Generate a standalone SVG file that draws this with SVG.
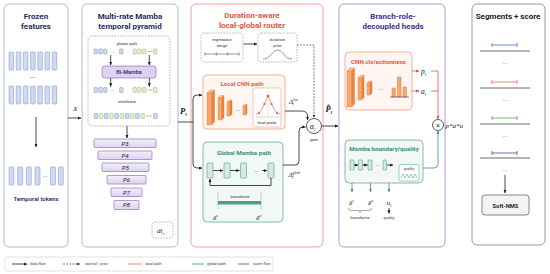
<svg xmlns="http://www.w3.org/2000/svg" width="550" height="274" viewBox="0 0 550 274">
<defs>
<style>
text{font-family:Roboto,"Liberation Sans",Arial,sans-serif}
.ttl{font-size:8px;font-weight:700;text-anchor:middle}
.sub{font-size:6.2px;font-weight:700;text-anchor:middle}
.tiny{font-size:4.2px;fill:#333;text-anchor:middle}
.math{font-family:"Liberation Serif","DejaVu Serif",serif;font-style:italic;fill:#1a1a1a}
.mc{text-anchor:middle}
.panel{fill:#fff;stroke-width:1}
.tok{fill:#cfd9f1;stroke:#7d92c7;stroke-width:0.5}
.gtok{fill:#e5eed3;stroke:#96b675;stroke-width:0.5}
.dbox{fill:#fff;stroke:#8a8a8a;stroke-width:0.6;stroke-dasharray:1.6 1.2}
.pyr{fill:url(#gp);stroke:#8c72c4;stroke-width:0.7}
.mb{fill:#d3ebe4;stroke:#4f9c8b;stroke-width:0.6}
.fr{fill:#f7a869;stroke:#dd6e37;stroke-width:0.35}
.sd{fill:#e4843f;stroke:#dd6e37;stroke-width:0.35}
.tp{fill:#fbc595;stroke:#dd6e37;stroke-width:0.35}
.k{fill:none;stroke:#1a1a1a;stroke-width:0.8}
.kd{fill:none;stroke:#333;stroke-width:0.7;stroke-dasharray:1.8 1.3}
.r{fill:none;stroke:#e8553f;stroke-width:0.8}
.g{fill:none;stroke:#3e8f7e;stroke-width:0.8}
.p{fill:none;stroke:#5b45b0;stroke-width:0.8}
.pinkbox{fill:#fff5f1;stroke:#f2a08c;stroke-width:0.8}
.greenbox{fill:#f1f8f5;stroke:#6aaa9a;stroke-width:0.8}
.seg{stroke-width:0.9;fill:none}
.base{stroke:#444;stroke-width:0.8}
.leg{font-size:3.8px;fill:#444}
</style>
<linearGradient id="gp" x1="0" y1="0" x2="0" y2="1"><stop offset="0" stop-color="#f3effb"/><stop offset="1" stop-color="#ddd3f1"/></linearGradient>
<marker id="a" viewBox="0 0 6 6" refX="5.5" refY="3" markerWidth="4.5" markerHeight="4.5" orient="auto"><path d="M0,0.5 L6,3 L0,5.5z" fill="#1a1a1a"/></marker>
<marker id="ar" viewBox="0 0 6 6" refX="5.5" refY="3" markerWidth="4.5" markerHeight="4.5" orient="auto"><path d="M0,0.5 L6,3 L0,5.5z" fill="#e8553f"/></marker>
<marker id="ag" viewBox="0 0 6 6" refX="5.5" refY="3" markerWidth="4.5" markerHeight="4.5" orient="auto"><path d="M0,0.5 L6,3 L0,5.5z" fill="#3e8f7e"/></marker>
</defs>

<!-- Panel 1 -->
<g id="frozen-features">
<rect class="panel" x="4" y="4" width="64" height="243" rx="5" stroke="#abbdd1"/>
<text class="ttl" x="36" y="19" fill="#1f2d5a">Frozen</text>
<text class="ttl" x="36" y="29" fill="#1f2d5a">features</text>
<g>
<rect class="tok" x="9" y="52" width="4.6" height="18" rx="0.8"/><rect class="tok" x="16.2" y="52" width="4.6" height="18" rx="0.8"/><rect class="tok" x="23.4" y="52" width="4.6" height="18" rx="0.8"/><rect class="tok" x="30.6" y="52" width="4.6" height="18" rx="0.8"/><rect class="tok" x="37.8" y="52" width="4.6" height="18" rx="0.8"/><rect class="tok" x="45" y="52" width="4.6" height="18" rx="0.8"/><rect class="tok" x="52.2" y="52" width="4.6" height="18" rx="0.8"/>
<rect class="tok" x="9" y="86" width="4.6" height="18" rx="0.8"/><rect class="tok" x="16.2" y="86" width="4.6" height="18" rx="0.8"/><rect class="tok" x="23.4" y="86" width="4.6" height="18" rx="0.8"/><rect class="tok" x="30.6" y="86" width="4.6" height="18" rx="0.8"/><rect class="tok" x="37.8" y="86" width="4.6" height="18" rx="0.8"/><rect class="tok" x="45" y="86" width="4.6" height="18" rx="0.8"/><rect class="tok" x="52.2" y="86" width="4.6" height="18" rx="0.8"/>
</g>
<text x="33" y="80" font-size="7" fill="#333" text-anchor="middle">···</text>
<g>
<rect class="tok" x="9" y="167" width="5" height="18" rx="0.8"/><rect class="tok" x="17.7" y="167" width="5" height="18" rx="0.8"/><rect class="tok" x="26.3" y="167" width="5" height="18" rx="0.8"/><rect class="tok" x="35" y="167" width="5" height="18" rx="0.8"/><rect class="tok" x="50.5" y="167" width="5" height="18" rx="0.8"/><rect class="tok" x="58.3" y="167" width="5" height="18" rx="0.8"/>
</g>
<text x="45.2" y="178" font-size="6" fill="#333" text-anchor="middle">···</text>
<text x="36" y="201" font-size="6" font-weight="600" fill="#1f2d5a" text-anchor="middle">Temporal tokens</text>
</g>

<!-- Panel 2 -->
<g id="temporal-pyramid">
<rect class="panel" x="82" y="4" width="96" height="243" rx="5" stroke="#a7bfd8"/>
<text class="ttl" x="130" y="19" fill="#1f2d5a">Multi-rate Mamba</text>
<text class="ttl" x="130" y="29" fill="#1f2d5a">temporal pyramid</text>
<rect class="dbox" x="88" y="36" width="82" height="90" rx="4"/>
<text class="tiny" x="127" y="45">phase split</text>
<g id="row1">
<rect class="tok" x="94" y="49" width="3.4" height="5" rx="0.5"/><rect class="tok" x="98.8" y="49" width="3.4" height="5" rx="0.5"/><rect class="tok" x="103.6" y="49" width="3.4" height="5" rx="0.5"/><rect class="tok" x="119.6" y="49" width="3.4" height="5" rx="0.5"/>
<rect class="gtok" x="133" y="49" width="3.4" height="5" rx="0.5"/><rect class="gtok" x="137.8" y="49" width="3.4" height="5" rx="0.5"/><rect class="gtok" x="142.6" y="49" width="3.4" height="5" rx="0.5"/><rect class="gtok" x="153.6" y="49" width="3.4" height="5" rx="0.5"/>
<text x="113" y="53.5" font-size="5" fill="#555" text-anchor="middle">···</text>
<path d="M147.5,51.5 H152.5" stroke="#777" stroke-width="0.5"/>
</g>
<rect x="102" y="66" width="54" height="12" rx="3" fill="#ddd3f1" stroke="#8c72c4" stroke-width="0.7"/>
<text x="129" y="74" font-size="5.5" font-weight="600" fill="#3a2f70" text-anchor="middle">Bi-Mamba</text>
<g id="row2">
<rect class="tok" x="94" y="87.5" width="3.4" height="5" rx="0.5"/><rect class="tok" x="98.8" y="87.5" width="3.4" height="5" rx="0.5"/><rect class="tok" x="103.6" y="87.5" width="3.4" height="5" rx="0.5"/><rect class="tok" x="119.6" y="87.5" width="3.4" height="5" rx="0.5"/>
<rect class="gtok" x="133" y="87.5" width="3.4" height="5" rx="0.5"/><rect class="gtok" x="137.8" y="87.5" width="3.4" height="5" rx="0.5"/><rect class="gtok" x="142.6" y="87.5" width="3.4" height="5" rx="0.5"/><rect class="gtok" x="153.6" y="87.5" width="3.4" height="5" rx="0.5"/>
<text x="113" y="92" font-size="5" fill="#555" text-anchor="middle">···</text>
<path d="M147.5,90 H152.5" stroke="#777" stroke-width="0.5"/>
</g>
<text class="tiny" x="127" y="103">interleave</text>
<g id="row3">
<rect class="tok" x="94" y="113.5" width="3.6" height="5" rx="0.5"/><rect class="gtok" x="99.2" y="113.5" width="3.6" height="5" rx="0.5"/><rect class="tok" x="104.4" y="113.5" width="3.6" height="5" rx="0.5"/><rect class="gtok" x="109.6" y="113.5" width="3.6" height="5" rx="0.5"/><rect class="tok" x="114.8" y="113.5" width="3.6" height="5" rx="0.5"/><rect class="gtok" x="120" y="113.5" width="3.6" height="5" rx="0.5"/><rect class="tok" x="125.2" y="113.5" width="3.6" height="5" rx="0.5"/><rect class="gtok" x="130.4" y="113.5" width="3.6" height="5" rx="0.5"/><rect class="tok" x="135.6" y="113.5" width="3.6" height="5" rx="0.5"/><rect class="gtok" x="140.8" y="113.5" width="3.6" height="5" rx="0.5"/><rect class="tok" x="153.6" y="113.5" width="3.6" height="5" rx="0.5"/>
<path d="M146,116 H152" stroke="#777" stroke-width="0.5"/>
</g>
<g id="levels">
<rect class="pyr" x="94" y="139" width="62" height="8.5" rx="1"/>
<rect class="pyr" x="98" y="151" width="54" height="8.5" rx="1"/>
<rect class="pyr" x="102" y="163" width="47" height="8.5" rx="1"/>
<rect class="pyr" x="107" y="175.5" width="39" height="8.5" rx="1"/>
<rect class="pyr" x="111" y="188" width="31" height="8.5" rx="1"/>
<rect class="pyr" x="114" y="200.5" width="25" height="9" rx="1"/>
<g class="math" font-size="6" fill="#3a2f70" text-anchor="middle">
<text x="125" y="145.5">P3</text><text x="125" y="157.5">P4</text><text x="125.5" y="169.5">P5</text><text x="126.5" y="182">P6</text><text x="126.5" y="194.5">P7</text><text x="126.5" y="207.3">P8</text>
</g>
</g>
<rect class="dbox" x="152" y="222" width="21" height="16" rx="3"/>
<text class="math" x="157" y="233" font-size="7">dt<tspan font-size="4.5" dy="1.5">c</tspan></text>
</g>

<!-- Panel 3 -->
<g id="router">
<rect class="panel" x="191" y="4" width="132" height="243" rx="5" stroke="#f2a398"/>
<text class="ttl" x="252" y="18" fill="#e8553f">Duration-aware</text>
<text class="ttl" x="252" y="28" fill="#e8553f">local-global router</text>
</g>
<g id="regression-range">
<rect class="dbox" x="201" y="33" width="42" height="29" rx="3"/>
<text class="tiny" x="222" y="41">regression</text>
<text class="tiny" x="222" y="47">range</text>
<path d="M205,54 H239 M205,52.3 V55.7 M216.3,52.5 V55.5 M227.7,52.5 V55.5 M239,52.3 V55.7" stroke="#333" stroke-width="0.5" fill="none"/>
</g>
<g id="duration-prior">
<rect class="dbox" x="258" y="33" width="39" height="29" rx="3"/>
<text class="tiny" x="277.5" y="41">duration</text>
<text class="tiny" x="277.5" y="47">prior</text>
<path d="M263,59 C271,59 272,50 277.5,50 C283,50 284,59 292,59" stroke="#333" stroke-width="0.5" fill="none"/>
</g>
<g id="local-cnn">
<rect class="pinkbox" x="203" y="75" width="82" height="54" rx="4"/>
<text class="sub" x="242" y="86" fill="#e8603f">Local CNN path</text>
<path class="tp" d="M207,93 L210,90 L214.5,90 L211.5,93z"/><path class="sd" d="M211.5,93 L214.5,90 L214.5,122 L211.5,125z"/><rect class="fr" x="207" y="93" width="4.5" height="32"/>
<path class="tp" d="M218,98 L220.5,95.5 L224,95.5 L221.5,98z"/><path class="sd" d="M221.5,98 L224,95.5 L224,117.5 L221.5,120z"/><rect class="fr" x="218" y="98" width="3.5" height="22"/>
<path class="tp" d="M227,102 L229,100 L232,100 L230,102z"/><path class="sd" d="M230,102 L232,100 L232,114 L230,116z"/><rect class="fr" x="227" y="102" width="3" height="14"/>
<text x="237.5" y="112" font-size="6" fill="#333" text-anchor="middle">···</text>
<path class="tp" d="M243,106 L244.5,104.5 L247,104.5 L245.5,106z"/><path class="sd" d="M245.5,106 L247,104.5 L247,113.5 L245.5,115z"/><rect class="fr" x="243" y="106" width="2.5" height="9"/>
<g id="local-peaks">
<rect x="253" y="88" width="28" height="39" rx="2" fill="#fff" stroke="#f2a08c" stroke-width="0.6"/>
<path d="M256,117 H279" stroke="#999" stroke-width="0.4"/>
<path d="M268,92 V117" stroke="#999" stroke-width="0.4" stroke-dasharray="1 0.8"/>
<polyline points="256,114 259,113 262,109 264.5,104 266.5,99 268,96 269.5,99 271.5,104 274,109 277,113 280,114" fill="none" stroke="#e8553f" stroke-width="0.6"/>
<g fill="#e8553f"><circle cx="259" cy="113" r="1"/><circle cx="264.5" cy="104" r="1.1"/><circle cx="268" cy="96" r="1.3"/><circle cx="271.5" cy="104" r="1.1"/><circle cx="277" cy="113" r="1"/></g>
<text x="267" y="124" font-size="3.8" fill="#333" text-anchor="middle">local peaks</text>
</g>
</g>
<g id="global-mamba">
<rect class="greenbox" x="203" y="142" width="80" height="80" rx="4"/>
<text class="sub" x="244" y="155" fill="#3b8f7e">Global Mamba path</text>
<rect class="mb" x="207" y="163" width="6" height="15" rx="1"/><rect class="mb" x="224" y="163" width="6" height="15" rx="1"/><rect class="mb" x="240.5" y="163" width="6" height="15" rx="1"/><rect class="mb" x="268" y="163" width="6" height="15" rx="1"/>
<text x="256" y="173" font-size="6" fill="#333" text-anchor="middle">···</text>
<text x="240" y="198" font-size="3.8" fill="#333" text-anchor="middle">boundaries</text>
<rect x="218" y="201" width="43" height="3.5" fill="#4f9c8b"/>
<path d="M218,192 V209 M261,192 V209" stroke="#555" stroke-width="0.45" stroke-dasharray="1 0.8"/>
<text class="math" x="213" y="220" font-size="7">δ<tspan font-size="4.5" dy="-3">s</tspan></text>
<text class="math" x="256" y="220" font-size="7">δ<tspan font-size="4.5" dy="-3">e</tspan></text>
</g>
<g id="gate">
<circle cx="314" cy="126" r="7.5" fill="#fff" stroke="#333" stroke-width="0.8"/>
<text class="math" x="312.5" y="129" font-size="8" text-anchor="middle">α<tspan font-size="4.5" dy="1.5">l</tspan></text>
<text class="tiny" x="314" y="141">gate</text>
</g>

<!-- Panel 4 -->
<g id="heads">
<rect class="panel" x="339" y="4" width="106" height="243" rx="5" stroke="#a99cd8"/>
<text class="ttl" x="393" y="19" fill="#3b3290">Branch-role-</text>
<text class="ttl" x="393" y="29" fill="#3b3290">decoupled heads</text>
</g>
<g id="cnn-cls">
<rect class="pinkbox" x="345" y="52" width="67" height="58" rx="4"/>
<text class="sub" x="378.5" y="64" fill="#e8553f" font-size="6">CNN cls/actionness</text>
<path class="tp" d="M347,71 L350,68 L354.5,68 L351.5,71z"/><path class="sd" d="M351.5,71 L354.5,68 L354.5,104 L351.5,107z"/><rect class="fr" x="347" y="71" width="4.5" height="36"/>
<path class="tp" d="M358,78 L360.5,75.5 L364,75.5 L361.5,78z"/><path class="sd" d="M361.5,78 L364,75.5 L364,97.5 L361.5,100z"/><rect class="fr" x="358" y="78" width="3.5" height="22"/>
<path class="tp" d="M367,83 L369,81 L372,81 L370,83z"/><path class="sd" d="M370,83 L372,81 L372,93 L370,95z"/><rect class="fr" x="367" y="83" width="3" height="12"/>
<text x="381" y="91" font-size="6" fill="#333" text-anchor="middle">···</text>
<rect x="392" y="88" width="3.5" height="9" fill="#f7a869" stroke="#dd6e37" stroke-width="0.4"/>
<rect x="397.5" y="77" width="3.5" height="20" fill="#f7a869" stroke="#dd6e37" stroke-width="0.4"/>
<rect x="403" y="87" width="3.5" height="10" fill="#f7a869" stroke="#dd6e37" stroke-width="0.4"/>
<path d="M390,97 H409" stroke="#333" stroke-width="0.6"/>
</g>
<text class="math" x="421" y="74" font-size="7.5">p<tspan font-size="4.5" dy="1.5">l</tspan></text>
<text class="math" x="421" y="94" font-size="7.5">a<tspan font-size="4.5" dy="1.5">l</tspan></text>
<g id="mamba-bq">
<rect class="greenbox" x="345" y="140" width="78" height="43" rx="4"/>
<text class="sub" x="384" y="151" fill="#3b8f7e" font-size="5.8">Mamba boundary/quality</text>
<rect class="mb" x="350" y="160" width="4" height="10" rx="0.8"/><rect class="mb" x="358.5" y="160" width="4" height="10" rx="0.8"/><rect class="mb" x="368" y="160" width="4" height="10" rx="0.8"/><rect class="mb" x="383" y="160" width="3.5" height="10" rx="0.8"/>
<text x="378" y="167" font-size="5" fill="#333" text-anchor="middle">···</text>
<g id="quality-inset">
<rect x="399" y="164.5" width="20" height="16.5" rx="2" fill="#fff" stroke="#4f9c8b" stroke-width="0.5"/>
<text x="409" y="170" font-size="3.5" fill="#333" text-anchor="middle">quality</text>
<polyline points="401,178 403,174 405,178 407,174 409,178 411,174 413,178 415,174 417,178" fill="none" stroke="#3e8f7e" stroke-width="0.5"/>
</g>
</g>
<text class="math" x="349" y="205" font-size="7">δ<tspan font-size="4.5" dy="-3">s</tspan></text>
<text class="math" x="368" y="205" font-size="7">δ<tspan font-size="4.5" dy="-3">e</tspan></text>
<text class="math" x="386.5" y="205" font-size="7">u<tspan font-size="4.5" dy="1.5">l</tspan></text>
<path d="M348,208 Q348,210.5 352,210.5 H358 Q360,210.5 360,212.5 Q360,210.5 362,210.5 H368 Q372,210.5 372,208" fill="none" stroke="#333" stroke-width="0.45"/>
<text x="360" y="219" font-size="3.8" fill="#333" text-anchor="middle">boundaries</text>
<text x="389" y="219" font-size="3.8" fill="#333" text-anchor="middle">quality</text>
<g id="multiply">
<circle cx="438" cy="125" r="5.5" fill="#fff" stroke="#333" stroke-width="0.8"/>
<text x="438" y="127.8" font-size="7.5" fill="#222" text-anchor="middle">×</text>
</g>
<text class="math" x="445.5" y="128" font-size="7">p*a*u</text>

<!-- Panel 5 -->
<g id="segments">
<rect class="panel" x="472" y="4" width="73" height="241" rx="5" stroke="#9a9a9a"/>
<text class="ttl" x="508" y="19" fill="#222" font-size="7">Segments + score</text>
<path class="base" d="M480,51 H530 M480,88 H530 M480,124 H530 M480,158 H530"/>
<path class="seg" stroke="#5b7fc0" d="M492,45 H517 M492,43 V47 M517,43 V47"/>
<path class="seg" stroke="#f0736a" d="M492,82 H517 M492,80 V84 M517,80 V84"/>
<path class="seg" stroke="#6aaa6a" d="M492,118 H517 M492,116 V120 M517,116 V120"/>
<path class="seg" stroke="#6b52b3" d="M492,153 H517 M492,151 V155 M517,151 V155"/>
<g font-size="5.5" fill="#333" text-anchor="middle"><text x="505" y="65">···</text><text x="505" y="102">···</text><text x="505" y="138">···</text><text x="505" y="172">···</text></g>
</g>
<g id="soft-nms">
<rect x="482" y="195" width="47" height="20" rx="3" fill="#f4f4f4" stroke="#555" stroke-width="0.7"/>
<text x="505.5" y="207.5" font-size="5.8" font-weight="700" fill="#222" text-anchor="middle">Soft-NMS</text>
</g>

<!-- Connectors -->
<g id="connectors">
<path class="k" d="M36,117 V147" marker-end="url(#a)"/>
<path class="k" d="M68,118 H81" marker-end="url(#a)"/>
<path class="k" d="M110.7,55 V65" marker-end="url(#a)"/>
<path class="k" d="M149.3,55 V65" marker-end="url(#a)"/>
<path class="k" d="M110.7,78 V86.5" marker-end="url(#a)"/>
<path class="k" d="M149.3,78 V86.5" marker-end="url(#a)"/>
<path class="k" d="M127,126 V138" marker-end="url(#a)"/>
<path class="k" d="M178,122 H193"/>
<path class="k" d="M193,122 V99 Q193,95 197,95 H202" marker-end="url(#a)"/>
<path class="k" d="M193,122 V164 Q193,168 197,168 H202" marker-end="url(#a)"/>
<path class="k" d="M243.5,44 H257" marker-end="url(#a)"/>
<path class="kd" d="M297,45 H314 V117.5" marker-end="url(#a)"/>
<path class="k" d="M285,111 H302 Q307.5,111 307.5,116 V120" marker-end="url(#a)"/>
<path class="k" d="M283,165 H295 Q299,165 299,161 V131 Q299,127 303,127 H305.5" marker-end="url(#a)"/>
<path class="k" d="M213,170.5 H223" marker-end="url(#a)"/>
<path class="k" d="M230,170.5 H239.5" marker-end="url(#a)"/>
<path class="k" d="M262,170.5 H267" marker-end="url(#a)"/>
<path class="k" d="M271,178 V185.5 H210 V179" marker-end="url(#a)"/>
<path class="k" d="M321.5,126 H338" marker-end="url(#a)"/>
<path class="r" d="M412,71 H419" marker-end="url(#ar)"/>
<path class="r" d="M412,91 H419" marker-end="url(#ar)"/>
<path class="r" d="M431,71 H438 V119" marker-end="url(#ar)"/>
<path class="r" d="M431,91 H438"/>
<path class="g" d="M423,168 H434 Q438,168 438,164 V131" marker-end="url(#ag)"/>
<path class="k" d="M354,165 H358" stroke-width="0.5" marker-end="url(#a)"/>
<path class="k" d="M362.5,165 H367.5" stroke-width="0.5" marker-end="url(#a)"/>
<path class="k" d="M387,165 H393" stroke-width="0.5" marker-end="url(#a)"/>
<path class="g" d="M352,183 V192" marker-end="url(#ag)"/>
<path class="g" d="M370.5,183 V192" marker-end="url(#ag)"/>
<path class="g" d="M389,183 V192" marker-end="url(#ag)"/>
<path class="k" d="M389,208 V213.5" stroke-width="0.5" marker-end="url(#a)"/>
<path class="k" d="M505,175 V193" marker-end="url(#a)"/>
</g>
<text class="math" x="73.5" y="111" font-size="8.5">x</text>
<text class="math" x="180" y="114" font-size="8.5" font-weight="700">P<tspan font-size="5" dy="1.5">l</tspan></text>
<text class="math" x="289" y="104" font-size="7">Δ<tspan font-size="4.2" dy="-3.5">loc</tspan><tspan font-size="4.2" dx="-5.8" dy="5.5">l</tspan></text>
<text class="math" x="288.5" y="177" font-size="7">Δ<tspan font-size="4.2" dy="-3.5">glob</tspan><tspan font-size="4.2" dx="-7.8" dy="5.5">l</tspan></text>
<text class="math" x="325.5" y="112" font-size="8.5" font-weight="700">P̂<tspan font-size="5" dy="1.5">l</tspan></text>

<!-- Legend -->
<g id="legend">
<rect x="5" y="257" width="268" height="14" rx="2" fill="#fff" stroke="#cfcfcf" stroke-width="0.6"/>
<path class="k" d="M12,264 H27" marker-end="url(#a)"/>
<text class="leg" x="30" y="265.4">data flow</text>
<path class="kd" d="M63,264 H80" marker-end="url(#a)"/>
<text class="leg" x="85" y="265.4">control / prior</text>
<path class="r" d="M128,264 H141"/>
<text class="leg" x="145" y="265.4">local path</text>
<path class="g" d="M192,264 H204"/>
<text class="leg" x="207" y="265.4">global path</text>
<path class="p" d="M238,264 H249"/>
<text class="leg" x="253" y="265.4">score flow</text>
</g>
</svg>
